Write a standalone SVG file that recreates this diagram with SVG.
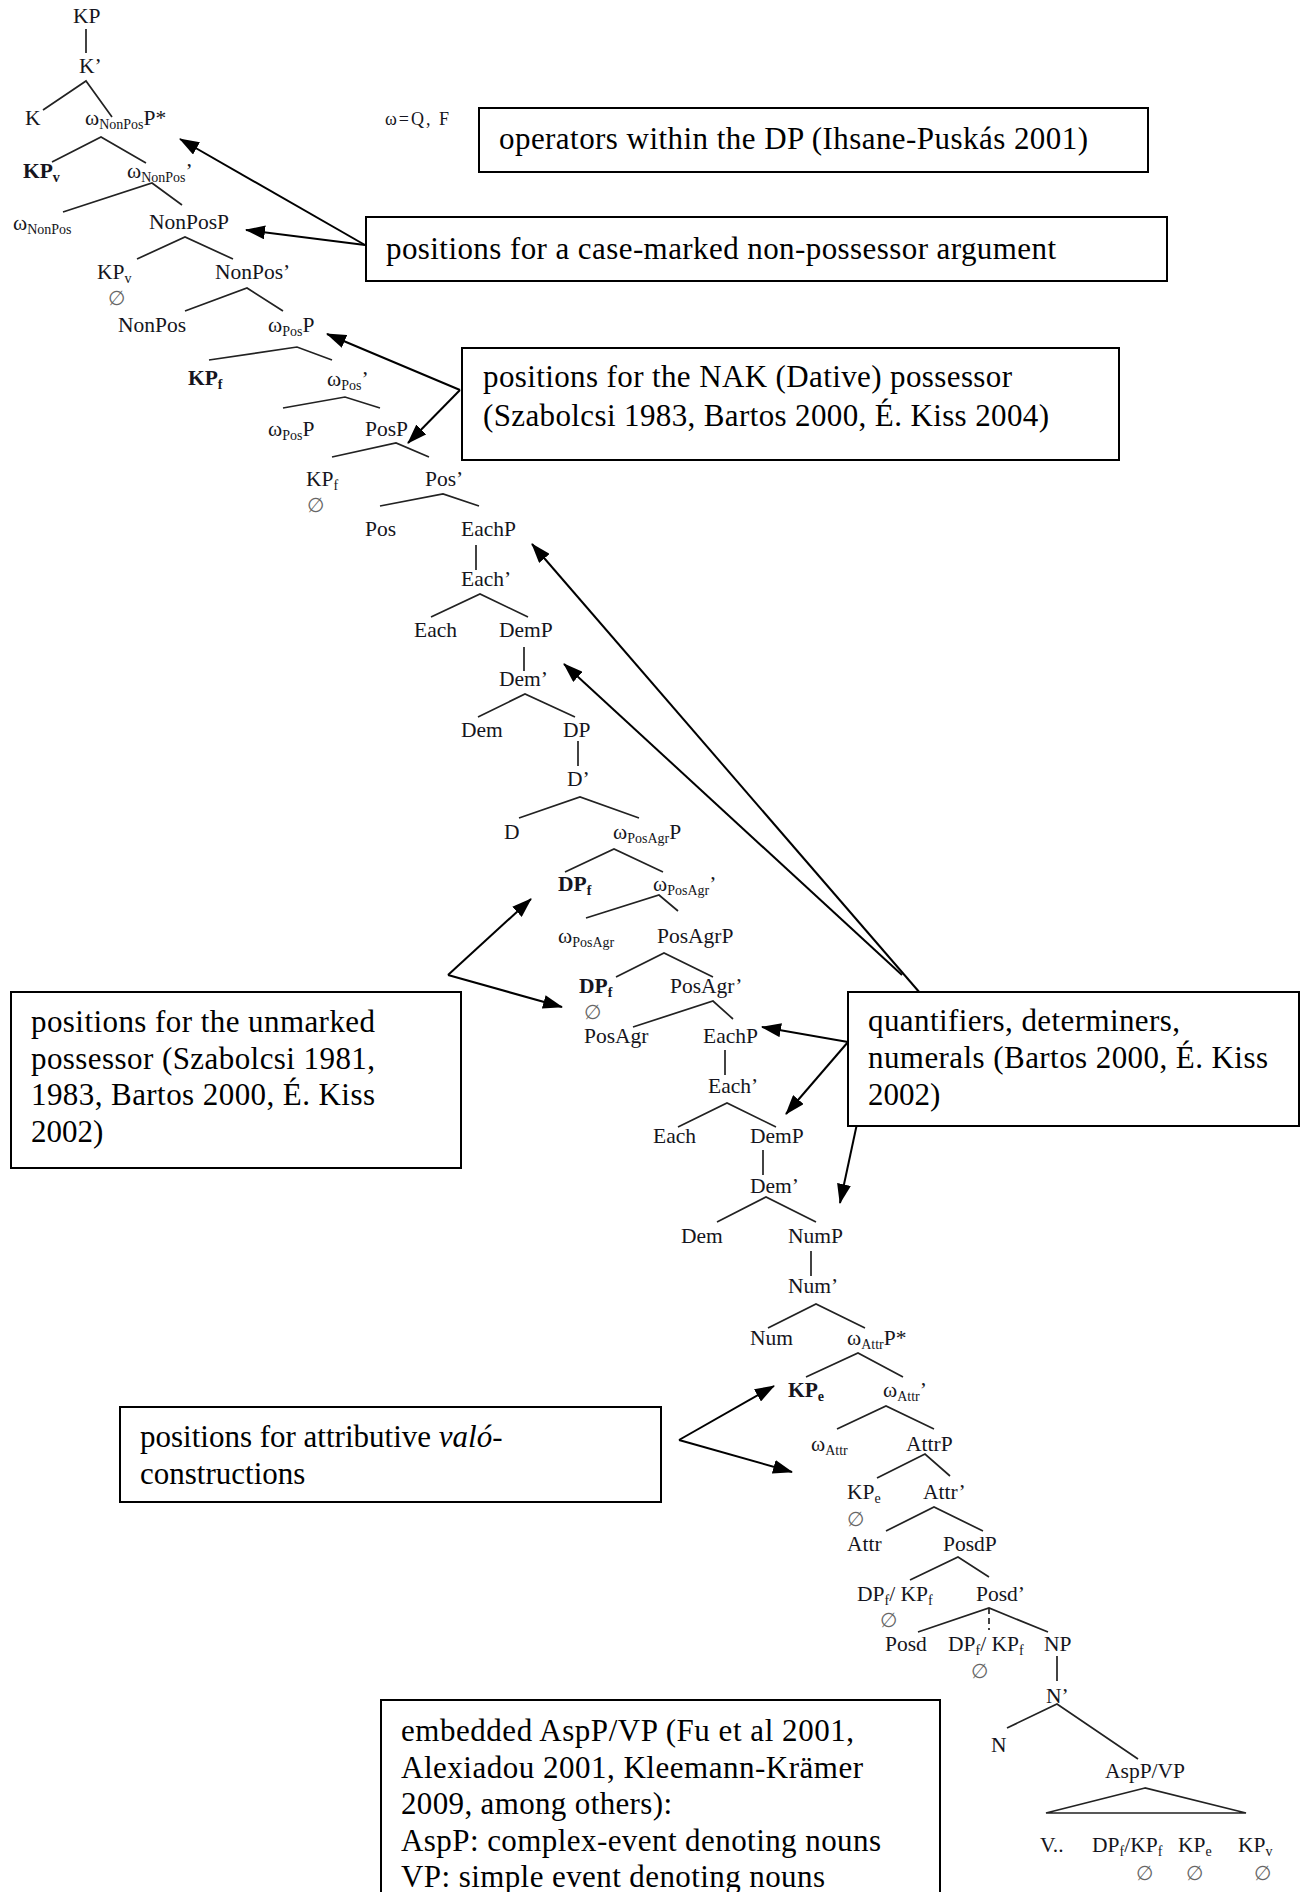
<svg xmlns="http://www.w3.org/2000/svg" width="1308" height="1892" viewBox="0 0 1308 1892">
<style>
.t{font-family:"Liberation Serif","Times New Roman",serif;font-size:21.5px;fill:#151520}
.b{font-weight:bold}
.s{font-size:14px}
.e{font-family:"Liberation Serif","Times New Roman",serif;font-size:20px;fill:#666}
.bx{font-family:"Liberation Serif","Times New Roman",serif;font-size:31px;fill:#000}
.box{fill:#fff;stroke:#000;stroke-width:2}
.ln{stroke:#222;stroke-width:1.7;fill:none}
.ar{stroke:#000;stroke-width:2;fill:none;marker-end:url(#ah)}
</style>
<defs>
<marker id="ah" markerUnits="userSpaceOnUse" markerWidth="20" markerHeight="14" viewBox="0 0 20 14" refX="19" refY="7" orient="auto">
<path d="M0,0 L20,7 L0,14 z" fill="#000"/>
</marker>
</defs>
<rect width="1308" height="1892" fill="#fff"/>

<g id="connectors">
<g id="tree-lines">
<path class="ln" d="M86,29 L86,53"/>
<path class="ln" d="M43,110 L86,81 L112,117"/>
<path class="ln" d="M52,162 L101,137 L146,163"/>
<path class="ln" d="M63,212 L152,183 L182,205"/>
<path class="ln" d="M137,259 L185,237 L233,259"/>
<path class="ln" d="M185,311 L247,288 L283,311"/>
<path class="ln" d="M209,360 L297,347 L332,360"/>
<path class="ln" d="M283,408 L345,397 L380,408"/>
<path class="ln" d="M332,457 L396,443 L429,457"/>
<path class="ln" d="M380,506 L443,494 L479,506"/>
<path class="ln" d="M476,545 L476,570"/>
<path class="ln" d="M431,617 L480,594 L528,617"/>
<path class="ln" d="M524,647 L524,671"/>
<path class="ln" d="M478,717 L525,694 L575,717"/>
<path class="ln" d="M578,741 L578,766"/>
<path class="ln" d="M519,818 L580,797 L639,818"/>
<path class="ln" d="M565,872 L614,849 L663,872"/>
<path class="ln" d="M586,918 L659,895 L678,911"/>
<path class="ln" d="M616,977 L664,953 L713,977"/>
<path class="ln" d="M633,1027 L713,1001 L733,1019"/>
<path class="ln" d="M725,1050 L725,1075"/>
<path class="ln" d="M678,1127 L727,1103 L776,1127"/>
<path class="ln" d="M763,1150 L763,1175"/>
<path class="ln" d="M717,1222 L766,1197 L816,1222"/>
<path class="ln" d="M811,1251 L811,1276"/>
<path class="ln" d="M768,1328 L816,1304 L865,1328"/>
<path class="ln" d="M806,1377 L858,1353 L903,1377"/>
<path class="ln" d="M837,1429 L886,1406 L934,1429"/>
<path class="ln" d="M877,1478 L925,1454 L950,1476"/>
<path class="ln" d="M886,1531 L934,1507 L983,1531"/>
<path class="ln" d="M910,1580 L958,1557 L989,1577"/>
<path class="ln" d="M918,1632 L989,1608 L1048,1632"/>
<path class="ln" d="M989,1608 L989,1630" stroke-dasharray="6,4"/>
<path class="ln" d="M1057,1656 L1057,1681"/>
<path class="ln" d="M1007,1728 L1057,1704 L1138,1759"/>
<path class="ln" d="M1145,1788 L1046,1813 L1246,1813 Z"/>
</g>
<g id="arrows">
<path class="ar" d="M365,245 L180,139"/>
<path class="ar" d="M365,245 L246,230"/>
<path class="ar" d="M460,390 L327,334"/>
<path class="ar" d="M460,390 L408,443"/>
<path class="ar" d="M933,1008 L532,544"/>
<path class="ar" d="M902,975 L564,664"/>
<path class="ar" d="M448,975 L531,899"/>
<path class="ar" d="M448,975 L562,1007"/>
<path class="ar" d="M848,1042 L762,1027"/>
<path class="ar" d="M848,1042 L786,1114"/>
<path class="ar" d="M867,1077 L840,1203"/>
<path class="ar" d="M679,1440 L774,1386"/>
<path class="ar" d="M679,1440 L792,1472"/>
</g>
</g>

<g id="n-KP"><text class="t" x="73" y="23">KP</text></g>
<g id="n-Kbar"><text class="t" x="79" y="73">K’</text></g>
<g id="n-K"><text class="t" x="25" y="125">K</text></g>
<g id="n-wNonPosP"><text class="t" x="85" y="125">ω<tspan class="s" dy="4">NonPos</tspan><tspan dy="-4">P*</tspan></text></g>
<g id="n-KPv1"><text class="t b" x="23" y="178">KP<tspan class="s" dy="4">v</tspan></text></g>
<g id="n-wNonPosbar"><text class="t" x="127" y="178">ω<tspan class="s" dy="4">NonPos</tspan><tspan dy="-4">’</tspan></text></g>
<g id="n-wNonPos"><text class="t" x="13" y="230">ω<tspan class="s" dy="4">NonPos</tspan></text></g>
<g id="n-NonPosP"><text class="t" x="149" y="229">NonPosP</text></g>
<g id="n-KPv2"><text class="t" x="97" y="279">KP<tspan class="s" dy="4">v</tspan></text><text class="e" x="108" y="305">∅</text></g>
<g id="n-NonPosbar"><text class="t" x="215" y="279">NonPos’</text></g>
<g id="n-NonPos"><text class="t" x="118" y="332">NonPos</text></g>
<g id="n-wPosP1"><text class="t" x="268" y="332">ω<tspan class="s" dy="4">Pos</tspan><tspan dy="-4">P</tspan></text></g>
<g id="n-KPf1"><text class="t b" x="188" y="385">KP<tspan class="s" dy="4">f</tspan></text></g>
<g id="n-wPosbar"><text class="t" x="327" y="386">ω<tspan class="s" dy="4">Pos</tspan><tspan dy="-4">’</tspan></text></g>
<g id="n-wPosP2"><text class="t" x="268" y="436">ω<tspan class="s" dy="4">Pos</tspan><tspan dy="-4">P</tspan></text></g>
<g id="n-PosP"><text class="t" x="365" y="436">PosP</text></g>
<g id="n-KPf2"><text class="t" x="306" y="486">KP<tspan class="s" dy="4">f</tspan></text><text class="e" x="307" y="512">∅</text></g>
<g id="n-Posbar"><text class="t" x="425" y="486">Pos’</text></g>
<g id="n-Pos"><text class="t" x="365" y="536">Pos</text></g>
<g id="n-EachP1"><text class="t" x="461" y="536">EachP</text></g>
<g id="n-Eachbar1"><text class="t" x="461" y="586">Each’</text></g>
<g id="n-Each1"><text class="t" x="414" y="637">Each</text></g>
<g id="n-DemP1"><text class="t" x="499" y="637">DemP</text></g>
<g id="n-Dembar1"><text class="t" x="499" y="686">Dem’</text></g>
<g id="n-Dem1"><text class="t" x="461" y="737">Dem</text></g>
<g id="n-DP"><text class="t" x="563" y="737">DP</text></g>
<g id="n-Dbar"><text class="t" x="567" y="786">D’</text></g>
<g id="n-D"><text class="t" x="504" y="839">D</text></g>
<g id="n-wPosAgrP"><text class="t" x="613" y="839">ω<tspan class="s" dy="4">PosAgr</tspan><tspan dy="-4">P</tspan></text></g>
<g id="n-DPf1"><text class="t b" x="558" y="891">DP<tspan class="s" dy="4">f</tspan></text></g>
<g id="n-wPosAgrbar"><text class="t" x="653" y="891">ω<tspan class="s" dy="4">PosAgr</tspan><tspan dy="-4">’</tspan></text></g>
<g id="n-wPosAgr"><text class="t" x="558" y="943">ω<tspan class="s" dy="4">PosAgr</tspan></text></g>
<g id="n-PosAgrP"><text class="t" x="657" y="943">PosAgrP</text></g>
<g id="n-DPf2"><text class="t b" x="579" y="993">DP<tspan class="s" dy="4">f</tspan></text><text class="e" x="584" y="1019">∅</text></g>
<g id="n-PosAgrbar"><text class="t" x="670" y="993">PosAgr’</text></g>
<g id="n-PosAgr"><text class="t" x="584" y="1043">PosAgr</text></g>
<g id="n-EachP2"><text class="t" x="703" y="1043">EachP</text></g>
<g id="n-Eachbar2"><text class="t" x="708" y="1093">Each’</text></g>
<g id="n-Each2"><text class="t" x="653" y="1143">Each</text></g>
<g id="n-DemP2"><text class="t" x="750" y="1143">DemP</text></g>
<g id="n-Dembar2"><text class="t" x="750" y="1193">Dem’</text></g>
<g id="n-Dem2"><text class="t" x="681" y="1243">Dem</text></g>
<g id="n-NumP"><text class="t" x="788" y="1243">NumP</text></g>
<g id="n-Numbar"><text class="t" x="788" y="1293">Num’</text></g>
<g id="n-Num"><text class="t" x="750" y="1345">Num</text></g>
<g id="n-wAttrP"><text class="t" x="847" y="1345">ω<tspan class="s" dy="4">Attr</tspan><tspan dy="-4">P*</tspan></text></g>
<g id="n-KPe1"><text class="t b" x="788" y="1397">KP<tspan class="s" dy="4">e</tspan></text></g>
<g id="n-wAttrbar"><text class="t" x="883" y="1397">ω<tspan class="s" dy="4">Attr</tspan><tspan dy="-4">’</tspan></text></g>
<g id="n-wAttr"><text class="t" x="811" y="1451">ω<tspan class="s" dy="4">Attr</tspan></text></g>
<g id="n-AttrP"><text class="t" x="906" y="1451">AttrP</text></g>
<g id="n-KPe2"><text class="t" x="847" y="1499">KP<tspan class="s" dy="4">e</tspan></text><text class="e" x="847" y="1526">∅</text></g>
<g id="n-Attrbar"><text class="t" x="923" y="1499">Attr’</text></g>
<g id="n-Attr"><text class="t" x="847" y="1551">Attr</text></g>
<g id="n-PosdP"><text class="t" x="943" y="1551">PosdP</text></g>
<g id="n-DPKP1"><text class="t" x="857" y="1601">DP<tspan class="s" dy="4">f</tspan><tspan dy="-4">/ KP</tspan><tspan class="s" dy="4">f</tspan></text><text class="e" x="880" y="1627">∅</text></g>
<g id="n-Posdbar"><text class="t" x="976" y="1601">Posd’</text></g>
<g id="n-Posd"><text class="t" x="885" y="1651">Posd</text></g>
<g id="n-DPKP2"><text class="t" x="948" y="1651">DP<tspan class="s" dy="4">f</tspan><tspan dy="-4">/ KP</tspan><tspan class="s" dy="4">f</tspan></text><text class="e" x="971" y="1678">∅</text></g>
<g id="n-NP"><text class="t" x="1044" y="1651">NP</text></g>
<g id="n-Nbar"><text class="t" x="1046" y="1703">N’</text></g>
<g id="n-N"><text class="t" x="991" y="1752">N</text></g>
<g id="n-AspPVP"><text class="t" x="1105" y="1778">AspP/VP</text></g>
<g id="n-V"><text class="t" x="1040" y="1852">V..</text></g>
<g id="n-DPKPf"><text class="t" x="1092" y="1852">DP<tspan class="s" dy="4">f</tspan><tspan dy="-4">/KP</tspan><tspan class="s" dy="4">f</tspan></text><text class="e" x="1136" y="1880">∅</text></g>
<g id="n-KPe3"><text class="t" x="1178" y="1852">KP<tspan class="s" dy="4">e</tspan></text><text class="e" x="1186" y="1880">∅</text></g>
<g id="n-KPv3"><text class="t" x="1238" y="1852">KP<tspan class="s" dy="4">v</tspan></text><text class="e" x="1254" y="1880">∅</text></g>

<g id="n-omega-note"><text class="t" x="385" y="125" style="font-size:18px" textLength="64">ω=Q, F</text></g>

<g id="box-operators">
<rect class="box" x="479" y="108" width="669" height="64"/>
<text class="bx" x="499" y="149" textLength="589">operators within the DP (Ihsane-Puskás 2001)</text>
</g>
<g id="box-nonpossessor">
<rect class="box" x="366" y="217" width="801" height="64"/>
<text class="bx" x="386" y="259" textLength="670">positions for a case-marked non-possessor argument</text>
</g>
<g id="box-nak">
<rect class="box" x="462" y="348" width="657" height="112"/>
<text class="bx" x="483" y="386.5" textLength="529">positions for the NAK (Dative) possessor</text>
<text class="bx" x="483" y="425.5" textLength="566">(Szabolcsi 1983, Bartos 2000, É. Kiss 2004)</text>
</g>
<g id="box-unmarked">
<rect class="box" x="11" y="992" width="450" height="176"/>
<text class="bx" x="31" y="1032" textLength="344">positions for the unmarked</text>
<text class="bx" x="31" y="1069" textLength="344">possessor (Szabolcsi 1981,</text>
<text class="bx" x="31" y="1105" textLength="344">1983, Bartos 2000, É. Kiss</text>
<text class="bx" x="31" y="1142">2002)</text>
</g>
<g id="box-quantifiers">
<rect class="box" x="848" y="992" width="451" height="134"/>
<text class="bx" x="868" y="1031" textLength="312">quantifiers, determiners,</text>
<text class="bx" x="868" y="1068" textLength="400">numerals (Bartos 2000, É. Kiss</text>
<text class="bx" x="868" y="1105">2002)</text>
</g>
<g id="box-valo">
<rect class="box" x="120" y="1407" width="541" height="95"/>
<text class="bx" x="140" y="1447">positions for attributive <tspan font-style="italic">való-</tspan></text>
<text class="bx" x="140" y="1484">constructions</text>
</g>
<g id="box-aspp">
<rect class="box" x="381" y="1700" width="559" height="200"/>
<text class="bx" x="401" y="1741" textLength="453">embedded AspP/VP (Fu et al 2001,</text>
<text class="bx" x="401" y="1777.5" textLength="462">Alexiadou 2001, Kleemann-Krämer</text>
<text class="bx" x="401" y="1814" textLength="271">2009, among others):</text>
<text class="bx" x="401" y="1850.5" textLength="480">AspP: complex-event denoting nouns</text>
<text class="bx" x="401" y="1887" textLength="424">VP: simple event denoting nouns</text>
</g>
</svg>
